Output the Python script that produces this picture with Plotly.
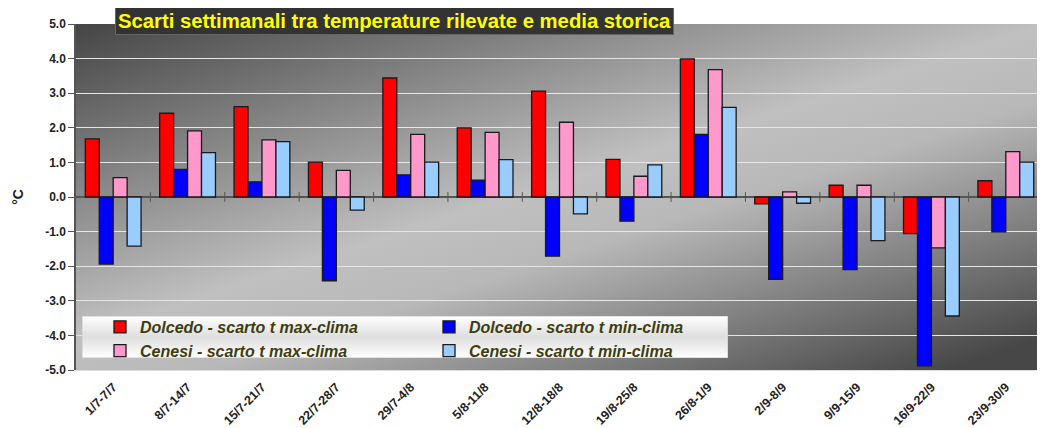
import base64
import plotly.graph_objects as go

weeks = ["1/7-7/7", "8/7-14/7", "15/7-21/7", "22/7-28/7", "29/7-4/8", "5/8-11/8",
         "12/8-18/8", "19/8-25/8", "26/8-1/9", "2/9-8/9", "9/9-15/9", "16/9-22/9", "23/9-30/9"]
dolcedo_max = [1.68, 2.42, 2.61, 1.01, 3.44, 2.00, 3.06, 1.09, 3.99, -0.20, 0.34, -1.06, 0.47]
dolcedo_min = [-1.94, 0.80, 0.44, -2.42, 0.64, 0.49, -1.71, -0.70, 1.81, -2.38, -2.10, -4.88, -1.01]
cenesi_max = [0.56, 1.91, 1.65, 0.77, 1.81, 1.87, 2.16, 0.60, 3.68, 0.15, 0.34, -1.47, 1.31]
cenesi_min = [-1.42, 1.28, 1.60, -0.38, 1.01, 1.08, -0.49, 0.93, 2.59, -0.18, -1.26, -3.44, 1.01]
y_ticks = [5, 4, 3, 2, 1, 0, -1, -2, -3, -4, -5]

series = [
    ("Dolcedo - scarto t max-clima", dolcedo_max, "#ff0000"),
    ("Dolcedo - scarto t min-clima", dolcedo_min, "#0000ff"),
    ("Cenesi - scarto t max-clima", cenesi_max, "#ff99cc"),
    ("Cenesi - scarto t min-clima", cenesi_min, "#99ccff"),
]

FONT = "Arial, 'Liberation Sans', sans-serif"
idx = list(range(len(weeks)))

fig = go.Figure()
for name, vals, col in series:
    fig.add_trace(go.Bar(
        x=idx, y=vals, name=name,
        marker=dict(color=col, line=dict(color="#1a1a1a", width=1.3)),
    ))

# small tick marks on the zero line, between categories
bounds = [i + 0.5 for i in idx[:-1]]
fig.add_trace(go.Scatter(
    x=bounds, y=[0] * len(bounds), mode="markers", showlegend=False, hoverinfo="skip",
    marker=dict(symbol="line-ns", size=7, line=dict(color="#555555", width=1)),
))


def svg_uri(svg):
    return "data:image/svg+xml;base64," + base64.b64encode(svg.encode()).decode()


bg_svg = (
    '<svg xmlns="http://www.w3.org/2000/svg" width="1000" height="360" '
    'preserveAspectRatio="none" viewBox="0 0 1000 360">'
    '<defs><linearGradient id="g" x1="0" y1="0" x2="0.9" y2="1">'
    '<stop offset="0" stop-color="#454545"/>'
    '<stop offset="0.5" stop-color="#c0c0c0"/>'
    '<stop offset="0.62" stop-color="#b8b8b8"/>'
    '<stop offset="1" stop-color="#474747"/>'
    '</linearGradient></defs>'
    '<rect x="0" y="0" width="1000" height="360" fill="url(#g)"/></svg>'
)
leg_svg = (
    '<svg xmlns="http://www.w3.org/2000/svg" width="600" height="40" '
    'preserveAspectRatio="none" viewBox="0 0 600 40">'
    '<defs><linearGradient id="l" x1="0" y1="0" x2="0" y2="1">'
    '<stop offset="0" stop-color="#ffffff"/>'
    '<stop offset="0.5" stop-color="#dedede"/>'
    '<stop offset="1" stop-color="#ffffff"/>'
    '</linearGradient></defs>'
    '<rect x="0" y="0" width="600" height="40" fill="url(#l)" stroke="#c8c8c8" stroke-width="1"/></svg>'
)

PW, PH = 967.0, 346.0  # plot area size in px
L, T = 68, 16

fig.update_layout(
    width=1037, height=420,
    margin=dict(l=L, r=2, t=T, b=58),
    paper_bgcolor="white",
    plot_bgcolor="#a0a0a0",
    barmode="group",
    bargap=0.25,
    bargroupgap=0,
    font=dict(family=FONT, color="#222222"),
    images=[
        dict(source=svg_uri(bg_svg), xref="paper", yref="paper", x=0, y=1, sizex=1, sizey=1,
             sizing="stretch", layer="below", xanchor="left", yanchor="top"),
        dict(source=svg_uri(leg_svg), xref="paper", yref="paper",
             x=(82 - 8 - L) / PW, y=1 - (316 - 8 - T) / PH,
             sizex=(728 - 82) / PW, sizey=(358 - 316) / PH,
             sizing="stretch", layer="above", xanchor="left", yanchor="top"),
    ],
    xaxis=dict(
        range=[-0.5, len(weeks) - 0.5],
        tickvals=idx, ticktext=weeks,
        tickangle=-45,
        tickfont=dict(family=FONT, size=12.5, color="#222222", weight="bold"),
        ticklabelstandoff=4,
        automargin=False,
        showgrid=False, showline=True, linecolor="#dddddd", linewidth=1,
        ticks="", zeroline=False,
    ),
    yaxis=dict(
        range=[-5, 5],
        tickvals=y_ticks,
        ticktext=[f"{v:.1f}" for v in y_ticks],
        tickfont=dict(family=FONT, size=12, color="#222222", weight="bold"),
        showgrid=True, gridcolor="#e6e6e6", gridwidth=1,
        zeroline=True, zerolinecolor="#555555", zerolinewidth=1.5,
        showline=True, linecolor="#555555", linewidth=1.5,
        ticks="outside", ticklen=6, tickcolor="#555555",
        title=dict(text="°C", font=dict(family=FONT, size=14, color="#222222", weight="bold"),
                   standoff=18),
    ),
    legend=dict(
        orientation="h",
        x=(100 - 8 - L) / PW, y=1 - (310 - 8 - T) / PH, xanchor="left", yanchor="top",
        entrywidth=284,
        bgcolor="rgba(0,0,0,0)",
        borderwidth=0,
        font=dict(family=FONT, size=16, color="#3d3d10", style="italic", weight="bold"),
        tracegroupgap=0,
    ),
    annotations=[dict(
        text="Scarti settimanali tra temperature rilevate e media storica",
        xref="paper", yref="paper", x=(115 - 8 - L) / PW, y=1 + 2.5 / PH,
        xanchor="left", yanchor="middle",
        showarrow=False,
        font=dict(family=FONT, size=20.3, color="#ffff00", weight="bold"),
        bgcolor="#333333", bordercolor="#666666", borderwidth=1, borderpad=2,
    )],
)

fig.write_html("out.html")
